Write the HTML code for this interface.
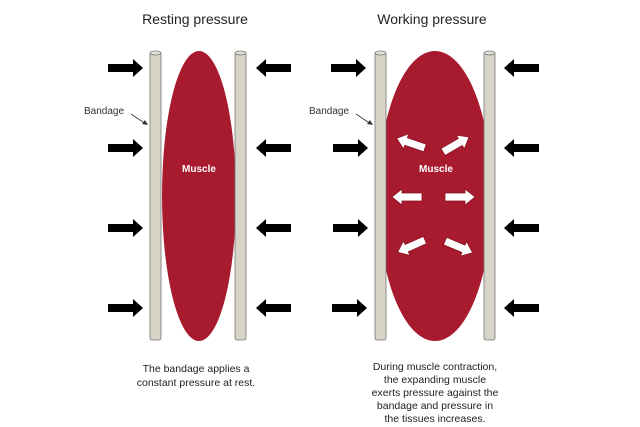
<!DOCTYPE html>
<html><head><meta charset="utf-8"><style>html,body{margin:0;padding:0;background:#fff}svg{display:block}</style></head>
<body>
<svg width="640" height="427" viewBox="0 0 640 427" xmlns="http://www.w3.org/2000/svg" font-family="'Liberation Sans', sans-serif">
<defs>
<g id="ar"><polygon points="0,-4 25,-4 25,-9 35,0 25,9 25,4 0,4" fill="#000"/></g>
<g id="wa"><polygon points="0,-4 20,-4 20,-8 30,0 20,8 20,4 0,4" fill="#fff" stroke="#8a1020" stroke-width="0.8"/></g>
<g id="bar"><rect x="0" y="52" width="11" height="288" rx="2" fill="#d8d5c8" stroke="#777" stroke-width="0.8"/><ellipse cx="5.5" cy="53" rx="5.5" ry="2" fill="#e4e2d8" stroke="#777" stroke-width="0.8"/></g>
</defs>
<text x="195" y="24" font-size="14" text-anchor="middle" fill="#222">Resting pressure</text>
<text x="432" y="24" font-size="14" text-anchor="middle" fill="#222">Working pressure</text>

<ellipse cx="199" cy="196" rx="37" ry="145" fill="#a81a2e"/>
<use href="#bar" x="150"/><use href="#bar" x="235"/>
<text x="199" y="172" font-size="10" font-weight="bold" fill="#fff" text-anchor="middle">Muscle</text>

<ellipse cx="435" cy="196" rx="57" ry="145" fill="#a81a2e"/>
<use href="#bar" x="375"/><use href="#bar" x="484"/>
<text x="436" y="172" font-size="10" font-weight="bold" fill="#fff" text-anchor="middle">Muscle</text>

<g>
<use href="#ar" transform="translate(108,68)"/><use href="#ar" transform="translate(108,148)"/><use href="#ar" transform="translate(108,228)"/><use href="#ar" transform="translate(108,308)"/>
<use href="#ar" transform="translate(291,68) scale(-1,1)"/><use href="#ar" transform="translate(291,148) scale(-1,1)"/><use href="#ar" transform="translate(291,228) scale(-1,1)"/><use href="#ar" transform="translate(291,308) scale(-1,1)"/>
<use href="#ar" transform="translate(331,68)"/><use href="#ar" transform="translate(333,148)"/><use href="#ar" transform="translate(333,228)"/><use href="#ar" transform="translate(332,308)"/>
<use href="#ar" transform="translate(539,68) scale(-1,1)"/><use href="#ar" transform="translate(539,148) scale(-1,1)"/><use href="#ar" transform="translate(539,228) scale(-1,1)"/><use href="#ar" transform="translate(539,308) scale(-1,1)"/>
</g>

<use href="#wa" transform="translate(425,148) rotate(-161)"/>
<use href="#wa" transform="translate(443,152) rotate(-30)"/>
<use href="#wa" transform="translate(422,197) rotate(180)"/>
<use href="#wa" transform="translate(445,197)"/>
<use href="#wa" transform="translate(425,240) rotate(156)"/>
<use href="#wa" transform="translate(445,241) rotate(23)"/>

<text x="84" y="114" font-size="10" fill="#333">Bandage</text>
<line x1="131" y1="114" x2="146" y2="124" stroke="#333" stroke-width="0.8"/><polygon points="148,125 142,124 145,120" fill="#333"/>
<text x="309" y="114" font-size="10" fill="#333">Bandage</text>
<line x1="356" y1="114" x2="371" y2="124" stroke="#333" stroke-width="0.8"/><polygon points="373,125 367,124 370,120" fill="#333"/>

<g font-size="10.5" fill="#222" text-anchor="middle">
<text x="196" y="372">The bandage applies a</text>
<text x="196" y="386">constant pressure at rest.</text>
<text x="435" y="370">During muscle contraction,</text>
<text x="435" y="383">the expanding muscle</text>
<text x="435" y="396">exerts pressure against the</text>
<text x="435" y="409">bandage and pressure in</text>
<text x="435" y="422">the tissues increases.</text>
</g>
</svg>
</body></html>
